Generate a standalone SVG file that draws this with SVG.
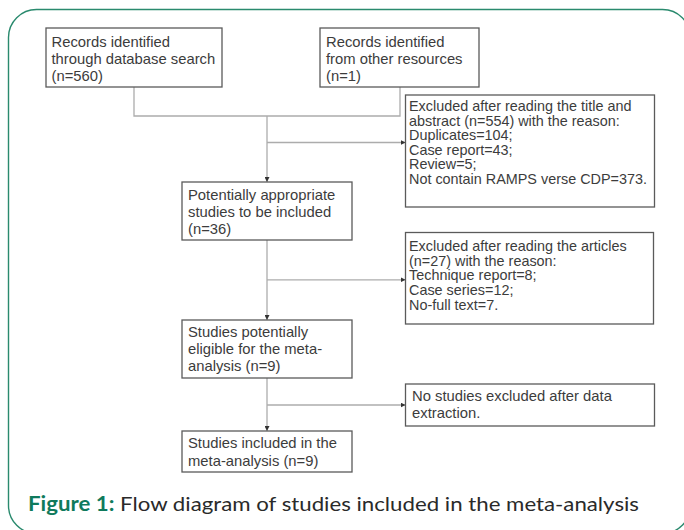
<svg xmlns="http://www.w3.org/2000/svg" width="684" height="530" viewBox="0 0 684 530">
<defs>
<marker id="arr" viewBox="0 0 6 6" refX="6" refY="3" markerWidth="5" markerHeight="5" markerUnits="userSpaceOnUse" orient="auto">
<path d="M0,0 L6,3 L0,6 Z" fill="#333"/>
</marker>
<style>
.box{fill:#fff;stroke:#5a5a5a;stroke-width:1.3}
.t{font-family:"Liberation Sans",Arial,sans-serif;font-size:14.8px;fill:#3c3c3c}
.s{font-size:14.4px}
.c{fill:none;stroke:#acacac;stroke-width:1.3}
.a{marker-end:url(#arr)}
.cap{font-family:Lato,"Open Sans",sans-serif;font-size:20px;fill:#2a2a2a}
.capb{font-weight:bold;fill:#0f7a5c}
</style>
</defs>
<rect width="684" height="530" fill="#fff"/>
<rect x="8.5" y="9.5" width="682" height="524" rx="28" ry="28" fill="none" stroke="#2a8a6e" stroke-width="1.4"/>

<g id="connectors">
<path class="c" d="M134,87 V116 H400 V87"/>
<path class="c a" d="M267,116 V182"/>
<path class="c a" d="M267,142.5 H405.5"/>
<path class="c a" d="M267,240 V320"/>
<path class="c a" d="M267,279.8 H405.5"/>
<path class="c a" d="M267,378 V431"/>
<path class="c a" d="M267,405 H405.5"/>
</g>

<g id="n1">
<rect class="box" x="46" y="28" width="176" height="59"/>
<text class="t" x="51.5" y="46.7">Records identified</text>
<text class="t" x="51.5" y="63.5">through database search</text>
<text class="t" x="51.5" y="80.5">(n=560)</text>
</g>
<g id="n2">
<rect class="box" x="320" y="28" width="159" height="59"/>
<text class="t" x="326" y="46.7">Records identified</text>
<text class="t" x="326" y="63.5">from other resources</text>
<text class="t" x="326" y="80.5">(n=1)</text>
</g>
<g id="n3">
<rect class="box" x="182" y="182" width="170" height="58"/>
<text class="t" x="188" y="200">Potentially appropriate</text>
<text class="t" x="188" y="216.7">studies to be included</text>
<text class="t" x="188" y="233.5">(n=36)</text>
</g>
<g id="n4">
<rect class="box" x="405.5" y="95" width="249" height="112"/>
<text class="t s" x="409" y="111">Excluded after reading the title and</text>
<text class="t s" x="409" y="125.5">abstract (n=554) with the reason:</text>
<text class="t s" x="409" y="140">Duplicates=104;</text>
<text class="t s" x="409" y="154.5">Case report=43;</text>
<text class="t s" x="409" y="169">Review=5;</text>
<text class="t s" x="409" y="183.7">Not contain RAMPS verse CDP=373.</text>
</g>
<g id="n5">
<rect class="box" x="405.5" y="232.5" width="248" height="91.5"/>
<text class="t s" x="409" y="251">Excluded after reading the articles</text>
<text class="t s" x="409" y="265.7">(n=27) with the reason:</text>
<text class="t s" x="409" y="280.3">Technique report=8;</text>
<text class="t s" x="409" y="295">Case series=12;</text>
<text class="t s" x="409" y="310">No-full text=7.</text>
</g>
<g id="n6">
<rect class="box" x="182" y="320" width="170" height="58"/>
<text class="t" x="188" y="337.3">Studies potentially</text>
<text class="t" x="188" y="354">eligible for the meta-</text>
<text class="t" x="188" y="370.7">analysis (n=9)</text>
</g>
<g id="n7">
<rect class="box" x="405.5" y="384" width="249" height="42"/>
<text class="t" x="412" y="401">No studies excluded after data</text>
<text class="t" x="412" y="417.5">extraction.</text>
</g>
<g id="n8">
<rect class="box" x="182" y="431" width="170" height="41"/>
<text class="t" x="188" y="448.3">Studies included in the</text>
<text class="t" x="188" y="465.7">meta-analysis (n=9)</text>
</g>

<text class="cap" x="28" y="511" textLength="611" lengthAdjust="spacingAndGlyphs"><tspan class="capb">Figure 1:</tspan> Flow diagram of studies included in the meta-analysis</text>
</svg>
